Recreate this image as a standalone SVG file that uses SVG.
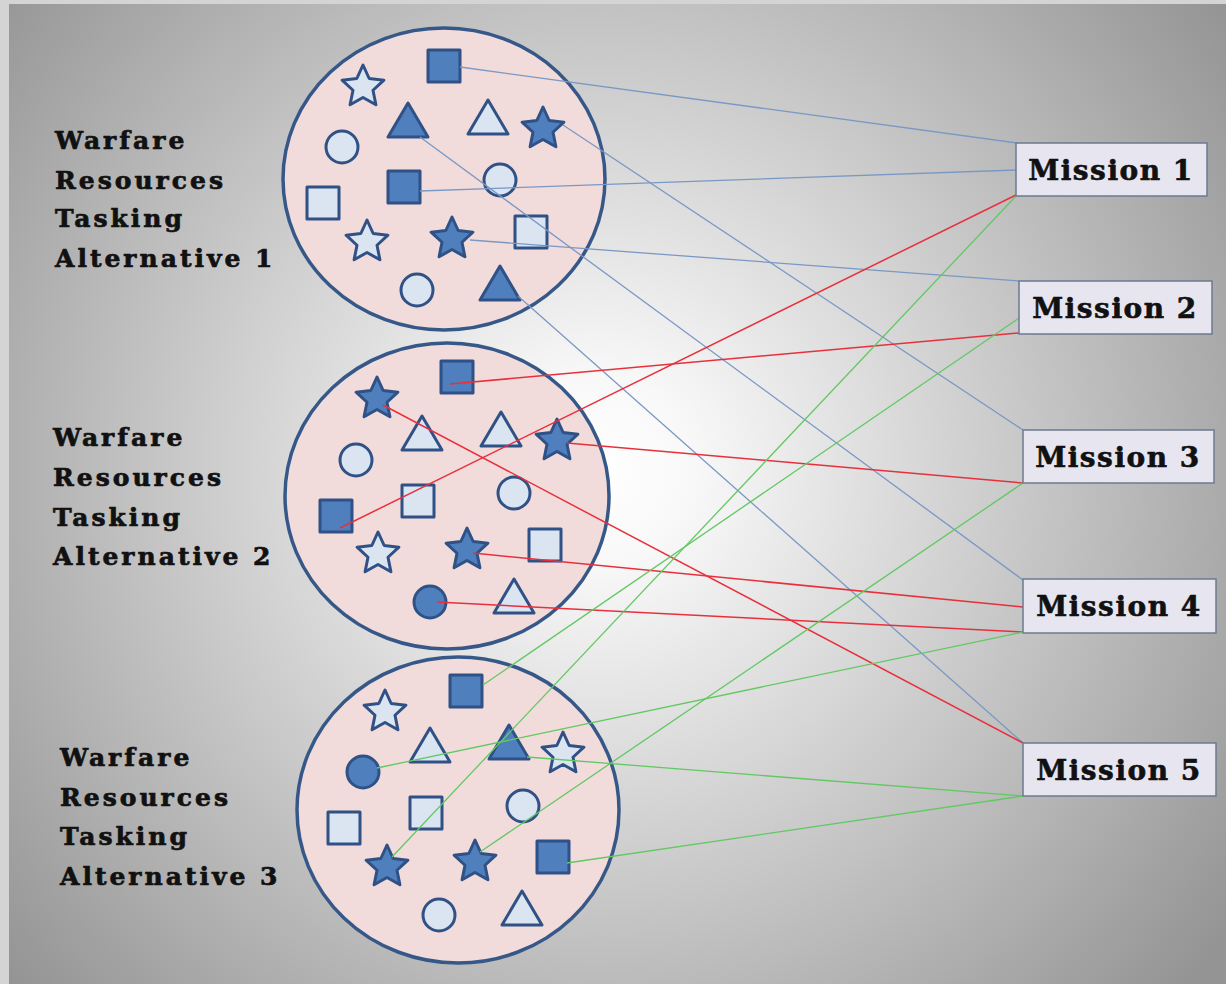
<svg xmlns="http://www.w3.org/2000/svg" xmlns:xlink="http://www.w3.org/1999/xlink" width="1226" height="984" viewBox="0 0 1226 984">
<defs>
<radialGradient id="bg" gradientUnits="userSpaceOnUse" cx="600" cy="470" r="780">
<stop offset="0" stop-color="#ffffff"/>
<stop offset="0.12" stop-color="#f8f8f8"/>
<stop offset="1" stop-color="#949494"/>
</radialGradient>
<path id="star" d="M0,-22 L6.17,-8.5 L20.92,-6.8 L9.99,3.25 L12.93,17.8 L0,10.5 L-12.93,17.8 L-9.99,3.25 L-20.92,-6.8 L-6.17,-8.5 Z"/>
<path id="tri" d="M0,-17 L20,17 L-20,17 Z"/>
<rect id="sq" x="-16" y="-16" width="32" height="32"/>
<circle id="dot" cx="0" cy="0" r="16"/>
<style>
.lbl{font-family:"DejaVu Serif","Liberation Serif",serif;font-weight:bold;font-size:25px;letter-spacing:3px;fill:#111;stroke:#111;stroke-width:0.7}
.mt{font-family:"DejaVu Serif","Liberation Serif",serif;font-weight:bold;font-size:28px;letter-spacing:1.5px;fill:#111;stroke:#111;stroke-width:0.6;text-anchor:middle}
.big{fill:#f2dcdb;stroke:#365888;stroke-width:3.5}
.d{fill:#4f7fbd;stroke:#2f5185;stroke-width:3;stroke-linejoin:round}
.l{fill:#dbe5f2;stroke:#2f5185;stroke-width:3;stroke-linejoin:round}
.box{fill:#e7e5ef;stroke:#6c7a90;stroke-width:1.5}
.cb{stroke:#7a98c4;stroke-width:1.3;fill:none}
.cr{stroke:#e8303c;stroke-width:1.5;fill:none}
.cg{stroke:#62c862;stroke-width:1.3;fill:none}
</style>
</defs>
<rect x="0" y="0" width="1226" height="984" fill="#d4d4d4"/>
<rect x="9" y="4" width="1217" height="980" fill="url(#bg)"/>

<g id="alt1">
<ellipse class="big" cx="444" cy="179" rx="161" ry="151"/>
<use href="#sq" class="d" x="444" y="66"/>
<use href="#star" class="l" x="363" y="87"/>
<use href="#tri" class="d" x="408" y="120"/>
<use href="#tri" class="l" x="488" y="117"/>
<use href="#star" class="d" x="543" y="129"/>
<use href="#dot" class="l" x="342" y="147"/>
<use href="#sq" class="d" x="404" y="187"/>
<use href="#dot" class="l" x="500" y="180"/>
<use href="#sq" class="l" x="323" y="203"/>
<use href="#star" class="l" x="367" y="242"/>
<use href="#star" class="d" x="452" y="239"/>
<use href="#sq" class="l" x="531" y="232"/>
<use href="#dot" class="l" x="417" y="290"/>
<use href="#tri" class="d" x="500" y="283"/>
<text class="lbl"><tspan x="55" y="149">Warfare</tspan><tspan x="55" y="189">Resources</tspan><tspan x="55" y="227">Tasking</tspan><tspan x="55" y="267">Alternative  1</tspan></text>
</g>

<g id="alt2">
<ellipse class="big" cx="447" cy="496" rx="162" ry="153"/>
<use href="#star" class="d" x="377" y="399"/>
<use href="#sq" class="d" x="457" y="377"/>
<use href="#tri" class="l" x="422" y="433"/>
<use href="#tri" class="l" x="501" y="429"/>
<use href="#star" class="d" x="557" y="441"/>
<use href="#dot" class="l" x="356" y="460"/>
<use href="#sq" class="l" x="418" y="501"/>
<use href="#dot" class="l" x="514" y="493"/>
<use href="#sq" class="d" x="336" y="516"/>
<use href="#star" class="l" x="378" y="554"/>
<use href="#star" class="d" x="467" y="550"/>
<use href="#sq" class="l" x="545" y="545"/>
<use href="#dot" class="d" x="430" y="602"/>
<use href="#tri" class="l" x="514" y="596"/>
<text class="lbl"><tspan x="53" y="446">Warfare</tspan><tspan x="53" y="486">Resources</tspan><tspan x="53" y="526">Tasking</tspan><tspan x="53" y="565">Alternative 2</tspan></text>
</g>

<g id="alt3">
<ellipse class="big" cx="458" cy="810" rx="161" ry="153"/>
<use href="#sq" class="d" x="466" y="691"/>
<use href="#star" class="l" x="385" y="712"/>
<use href="#tri" class="l" x="430" y="745"/>
<use href="#tri" class="d" x="509" y="742"/>
<use href="#star" class="l" x="563" y="754"/>
<use href="#dot" class="d" x="363" y="772"/>
<use href="#sq" class="l" x="426" y="813"/>
<use href="#dot" class="l" x="523" y="806"/>
<use href="#sq" class="l" x="344" y="828"/>
<use href="#star" class="d" x="387" y="867"/>
<use href="#star" class="d" x="475" y="862"/>
<use href="#sq" class="d" x="553" y="857"/>
<use href="#dot" class="l" x="439" y="915"/>
<use href="#tri" class="l" x="522" y="908"/>
<text class="lbl"><tspan x="60" y="766">Warfare</tspan><tspan x="60" y="806">Resources</tspan><tspan x="60" y="845">Tasking</tspan><tspan x="60" y="885">Alternative 3</tspan></text>
</g>

<g id="connectors">
<line class="cb" x1="460" y1="67" x2="1017" y2="143"/>
<line class="cb" x1="420" y1="191" x2="1017" y2="170"/>
<line class="cb" x1="563" y1="125" x2="1023" y2="430"/>
<line class="cb" x1="420" y1="137" x2="1023" y2="580"/>
<line class="cb" x1="470" y1="240" x2="1019" y2="281"/>
<line class="cb" x1="518" y1="296" x2="1023" y2="743"/>
<line class="cr" x1="450" y1="384" x2="1019" y2="333"/>
<line class="cr" x1="340" y1="528" x2="1016" y2="195"/>
<line class="cr" x1="383" y1="405" x2="1023" y2="743"/>
<line class="cr" x1="567" y1="443" x2="1023" y2="483"/>
<line class="cr" x1="473" y1="553" x2="1023" y2="607"/>
<line class="cr" x1="437" y1="602" x2="1023" y2="632"/>
<line class="cg" x1="483" y1="685" x2="1019" y2="318"/>
<line class="cg" x1="392" y1="857" x2="1016" y2="196"/>
<line class="cg" x1="377" y1="768" x2="1023" y2="632"/>
<line class="cg" x1="480" y1="852" x2="1023" y2="483"/>
<line class="cg" x1="527" y1="757" x2="1023" y2="796"/>
<line class="cg" x1="567" y1="863" x2="1023" y2="796"/>
</g>

<g id="mission1"><rect class="box" x="1016" y="143" width="191" height="53"/><text class="mt" x="1111" y="180">Mission 1</text></g>
<g id="mission2"><rect class="box" x="1019" y="281" width="193" height="53"/><text class="mt" x="1115" y="318">Mission 2</text></g>
<g id="mission3"><rect class="box" x="1023" y="430" width="191" height="53"/><text class="mt" x="1118" y="467">Mission 3</text></g>
<g id="mission4"><rect class="box" x="1023" y="579" width="193" height="54"/><text class="mt" x="1119" y="616">Mission 4</text></g>
<g id="mission5"><rect class="box" x="1023" y="743" width="193" height="53"/><text class="mt" x="1119" y="780">Mission 5</text></g>
</svg>
